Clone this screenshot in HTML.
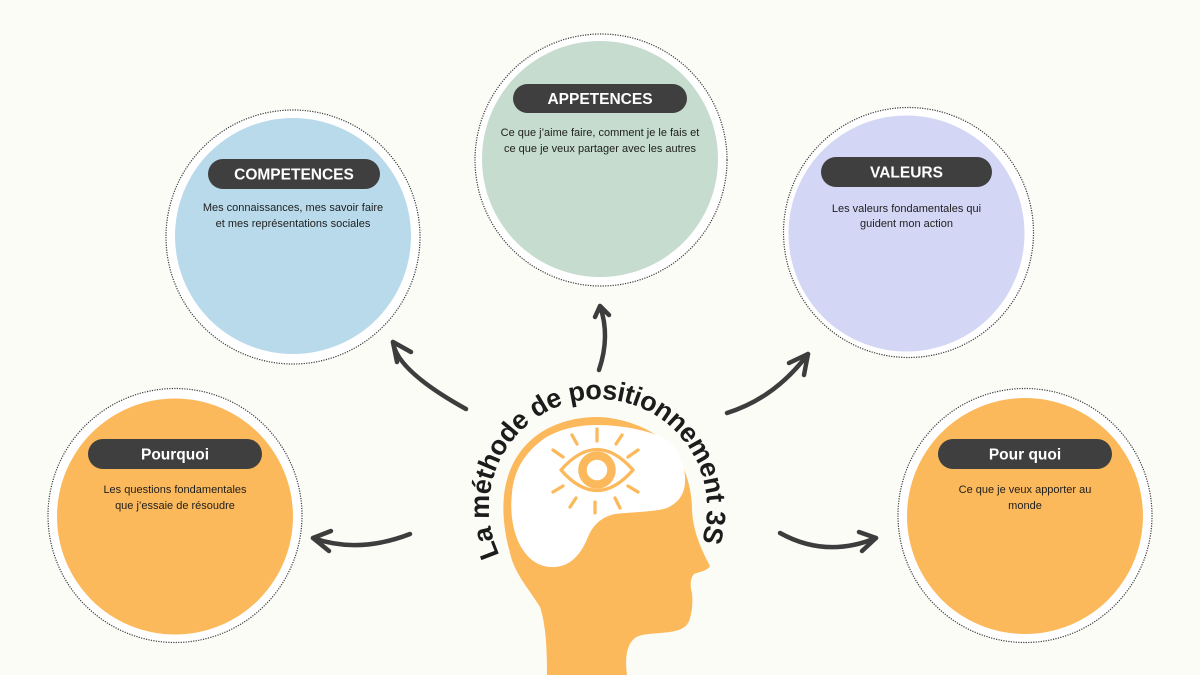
<!DOCTYPE html>
<html>
<head>
<meta charset="utf-8">
<style>
  html,body{margin:0;padding:0;background:#fcfcf7;}
  svg{display:block;}
  .ttl{font-family:"Liberation Sans",Arial,sans-serif;font-weight:bold;font-size:15.5px;fill:#ffffff;text-anchor:middle;}
  .dsc{font-family:"Liberation Sans",Arial,sans-serif;font-size:11px;fill:#1e1e1e;text-anchor:middle;}
  .arc{font-family:"Liberation Sans",Arial,sans-serif;font-weight:bold;font-size:27px;fill:#1c1c1c;letter-spacing:-0.5px;}
  .dot{fill:#ffffff;stroke:#3a3a3a;stroke-width:1.2;stroke-dasharray:1.2 1.3;}
  .arr{fill:none;stroke:#3d3d3d;stroke-width:4.5;stroke-linecap:round;stroke-linejoin:round;}
  .ray{stroke:#fbb95c;stroke-width:3.3;stroke-linecap:round;fill:none;}
</style>
</head>
<body>
<svg width="1200" height="675" viewBox="0 0 1200 675" xmlns="http://www.w3.org/2000/svg">
  <rect x="0" y="0" width="1200" height="675" fill="#fcfcf7"/>

  <!-- COMPETENCES -->
  <circle class="dot" cx="293" cy="237" r="127"/>
  <circle cx="293" cy="236" r="118" fill="#b9daeb"/>
  <rect x="208" y="159" width="172" height="30" rx="15" fill="#3f3f3f"/>
  <text class="ttl" x="294" y="179.5">COMPETENCES</text>
  <text class="dsc" x="293" y="211">Mes connaissances, mes savoir faire</text>
  <text class="dsc" x="293" y="227">et mes représentations sociales</text>

  <!-- APPETENCES -->
  <circle class="dot" cx="601" cy="160" r="126"/>
  <circle cx="600" cy="159" r="118" fill="#c6dccf"/>
  <rect x="513" y="84" width="174" height="29" rx="14.5" fill="#3f3f3f"/>
  <text class="ttl" x="600" y="104">APPETENCES</text>
  <text class="dsc" x="600" y="136">Ce que j’aime faire, comment je le fais et</text>
  <text class="dsc" x="600" y="152">ce que je veux partager avec les autres</text>

  <!-- VALEURS -->
  <circle class="dot" cx="908.5" cy="232.5" r="125"/>
  <circle cx="906.5" cy="233.5" r="118" fill="#d3d6f4"/>
  <rect x="821" y="157" width="171" height="30" rx="15" fill="#3f3f3f"/>
  <text class="ttl" x="906.5" y="177.5">VALEURS</text>
  <text class="dsc" x="906.5" y="212">Les valeurs fondamentales qui</text>
  <text class="dsc" x="906.5" y="227">guident mon action</text>

  <!-- Pourquoi -->
  <circle class="dot" cx="175" cy="515.5" r="127"/>
  <circle cx="175" cy="516.5" r="118" fill="#fcb95b"/>
  <rect x="88" y="439" width="174" height="30" rx="15" fill="#3f3f3f"/>
  <text class="ttl" x="175" y="459.5">Pourquoi</text>
  <text class="dsc" x="175" y="493">Les questions fondamentales</text>
  <text class="dsc" x="175" y="509">que j’essaie de résoudre</text>

  <!-- Pour quoi -->
  <circle class="dot" cx="1025" cy="515.5" r="127"/>
  <circle cx="1025" cy="516" r="118" fill="#fcb95b"/>
  <rect x="938" y="439" width="174" height="30" rx="15" fill="#3f3f3f"/>
  <text class="ttl" x="1025" y="459.5">Pour quoi</text>
  <text class="dsc" x="1025" y="493">Ce que je veux apporter au</text>
  <text class="dsc" x="1025" y="509">monde</text>

  <!-- Arrows -->
  <path class="arr" d="M466,409 Q396.5,370.5 393,342"/>
  <path class="arr" d="M411,352 L393,342 L397,362"/>

  <path class="arr" d="M410,534 Q358.5,554 313,538"/>
  <path class="arr" d="M331,531 L313,538 L329,551"/>

  <path class="arr" d="M599,370 Q610.5,336 600,306"/>
  <path class="arr" d="M595,317 L600,306 L609,315"/>

  <path class="arr" d="M727,413 Q775,398 808,354"/>
  <path class="arr" d="M789,363 L808,354 L804,375"/>

  <path class="arr" d="M780,533 Q826,558.5 876,538"/>
  <path class="arr" d="M859,532 L876,538 L862,551"/>

  <!-- Head -->
  <path fill="#fcb95c" d="M597,417
    C620,417 655,428 672,449
    C686,466 692,490 692,510
    C693,530 700,547 710,566
    C707,571 699,572 694,574
    C690,579 690,586 692,593
    C693,603 692,612 690,618
    C688,626 683,630 670,632
    C655,634 642,633 635,638
    C626,645 625,660 627,675
    L547,675
    C547,650 546,625 540,607
    C530,590 515,575 510,553
    C505,535 502,515 504,495
    C507,470 518,448 540,433
    C557,422 577,417 597,417 Z"/>
  <path fill="#ffffff" d="M597,425
    C620,425 650,430 667,440
    C680,450 686,468 685,483
    C684,495 678,503 667,508
    C655,512 630,512 615,514
    C600,517 592,527 588,537
    C582,552 572,566 555,567
    C540,568 528,560 520,545
    C512,530 510,510 512,493
    C514,470 525,452 545,438
    C560,429 578,425 597,425 Z"/>

  <!-- Eye -->
  <path d="M561,470 Q597,429 633,470 Q597,511 561,470 Z" fill="none" stroke="#fcb95c" stroke-width="3.3" stroke-linejoin="round"/>
  <circle cx="597" cy="470" r="14.5" fill="#ffffff" stroke="#fcb95c" stroke-width="8.5"/>
  <line class="ray" x1="597" y1="429" x2="597" y2="441"/>
  <line class="ray" x1="572" y1="435" x2="577" y2="444"/>
  <line class="ray" x1="622" y1="435" x2="616" y2="444"/>
  <line class="ray" x1="553" y1="450" x2="563" y2="457"/>
  <line class="ray" x1="638" y1="450" x2="628" y2="457"/>
  <line class="ray" x1="553" y1="492" x2="563" y2="486"/>
  <line class="ray" x1="638" y1="492" x2="628" y2="486"/>
  <line class="ray" x1="570" y1="507" x2="576" y2="498"/>
  <line class="ray" x1="595" y1="502" x2="595" y2="513"/>
  <line class="ray" x1="620" y1="508" x2="615" y2="498"/>

  <!-- Curved title -->
  <defs>
    <path id="arcp" d="M499.6,554.9 A109,109 0 1 1 700.6,544.9"/>
  </defs>
  <text class="arc"><textPath href="#arcp" startOffset="0">La méthode de positionnement 3S</textPath></text>
</svg>
</body>
</html>
